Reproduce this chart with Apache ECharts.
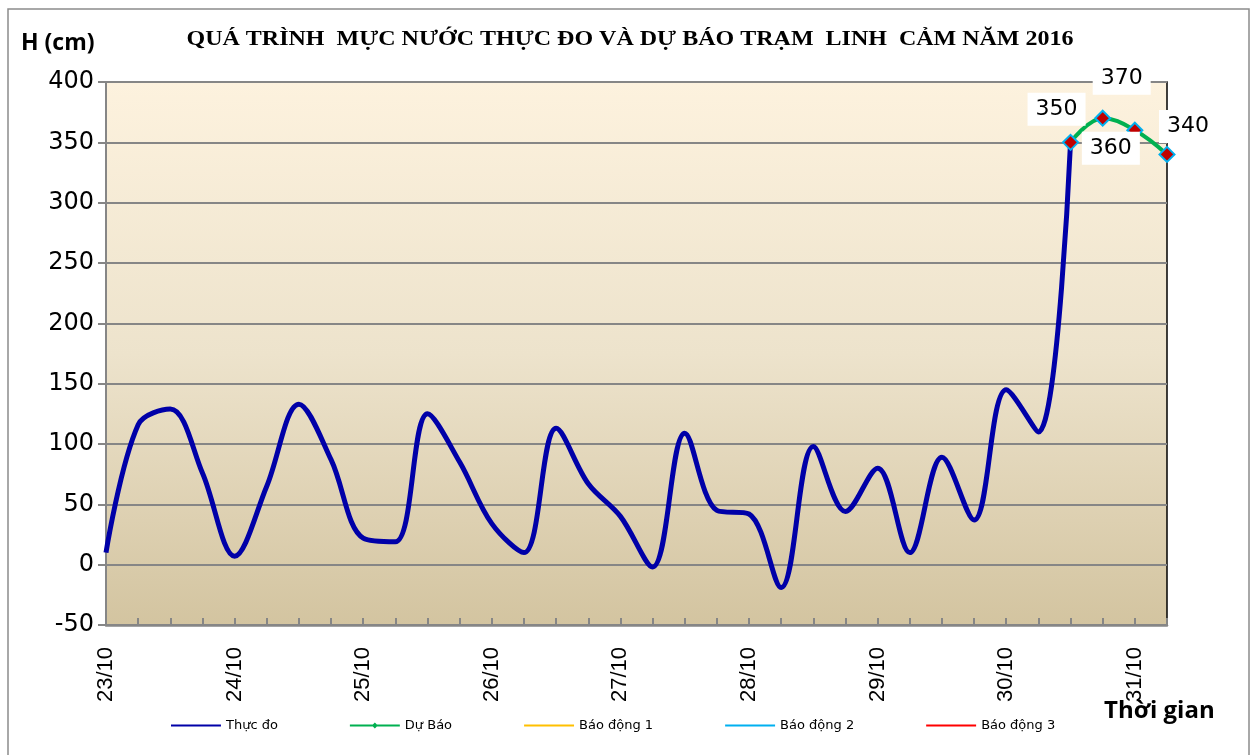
<!DOCTYPE html>
<html lang="vi">

<head>
  <meta charset="UTF-8">
  <title>Linh Cam 2016</title>
  <script src="https://cdn.jsdelivr.net/npm/echarts@6/dist/echarts.min.js"></script>
  <style>
    html, body { margin: 0; padding: 0; background: #fff; }
  </style>
</head>

<body>
  <div id="main" style="width: 1256px;height:755px;"></div>
  <script>
    // du lieu doc tu hinh
    var days = ['23/10', '24/10', '25/10', '26/10', '27/10', '28/10', '29/10', '30/10', '31/10'];
    var hours = ['1h', '7h', '13h', '19h'];
    var times = [];
    days.forEach(function (d) {
      hours.forEach(function (h) { times.push(d + ' ' + h); });
    });
    times = times.slice(0, 34);

    var thucDo = [10, 116, 129, 76, 7, 65, 133, 87, 22, 19,
      125, 85, 34, 10, 113, 67, 40, -2, 109, 45,
      42, -19, 98, 44, 80, 10, 89, 37, 145, 110, 350];
    var duBao = [350, 370, 360, 340];
    var duBaoStart = 30;
    var baoDong1 = [];
    var baoDong2 = [];
    var baoDong3 = [];

    var yTicks = { min: -50, max: 400, step: 50 };

    var myChart = echarts.init(document.getElementById('main'));

    // vi tri nhan cua duong du bao
    var labelOffsets = [[-14, -33], [19, -40], [-24, 18], [21, -28]];
    var duBaoData = times.map(function (t, i) {
      var k = i - duBaoStart;
      if (k < 0 || k >= duBao.length) return null;
      return {
        value: duBao[k],
        label: { offset: labelOffsets[k] }
      };
    });

    var axisGray = '#868686';
    var wideFont = 'DejaVu Sans, Verdana, sans-serif';
    // icon chu giai: duong mong o giua khung 50x10
    var lineIcon = 'path://M0,0 L0,0.01 Z M0,4 L50,4 L50,6 L0,6 Z M50,10 L50,10.01 Z';
    var diamondIcon = 'path://M0,0 L0,0.01 Z M0,4 L50,4 L50,6 L0,6 Z M25,2 L28,5 L25,8 L22,5 Z M50,10 L50,10.01 Z';

    var option = {
      animation: false,
      backgroundColor: '#fff',
      textStyle: { fontFamily: 'Liberation Sans, Arial, sans-serif' },
      graphic: [
        {
          type: 'rect', z: -10,
          shape: { x: 8, y: 9, width: 1241, height: 760 },
          style: { fill: 'none', stroke: '#8c8c8c', lineWidth: 1.5 }
        },
        {
          type: 'text', left: 21, top: 32,
          style: { text: 'H (cm)', font: 'bold 23px "Open Sans", sans-serif', fill: '#000' }
        },
        {
          type: 'text', left: 1104, top: 699,
          style: { text: 'Thời gian', font: 'bold 24px "Open Sans", sans-serif', fill: '#000' }
        },
        {
          type: 'text', x: 630, y: 40, scaleX: 1.2,
          style: {
            text: 'QUÁ TRÌNH  MỰC NƯỚC THỰC ĐO VÀ DỰ BÁO TRẠM  LINH  CẢM NĂM 2016',
            font: 'bold 20px "Liberation Serif", "Times New Roman", serif',
            fill: '#000',
            align: 'center',
            verticalAlign: 'middle'
          }
        }
      ],
      legend: {
        left: 166,
        top: 714,
        itemWidth: 50,
        itemHeight: 10,
        itemGap: 72,
        textStyle: { fontSize: 13, color: '#000', fontFamily: wideFont },
        data: [
          { name: 'Thực đo', icon: lineIcon },
          { name: 'Dự Báo', icon: diamondIcon, itemStyle: { color: '#00B050', borderWidth: 0 } },
          { name: 'Báo động 1', icon: lineIcon },
          { name: 'Báo động 2', icon: lineIcon },
          { name: 'Báo động 3', icon: lineIcon }
        ]
      },
      grid: {
        left: 106,
        right: 89,
        top: 82,
        bottom: 130,
        show: true,
        borderColor: '#000',
        borderWidth: 1.5,
        backgroundColor: new echarts.graphic.LinearGradient(0, 0, 0, 1, [
          { offset: 0, color: '#FDF2DE' },
          { offset: 0.5, color: '#EDE3CC' },
          { offset: 1, color: '#D3C4A0' }
        ])
      },
      xAxis: {
        type: 'category',
        data: times,
        boundaryGap: false,
        z: 10,
        axisLine: { show: true, onZero: false, lineStyle: { color: axisGray, width: 2.5 } },
        axisTick: { show: true, inside: true, length: 7, interval: 0, lineStyle: { color: axisGray, width: 2 } },
        axisLabel: {
          interval: 3,
          rotate: 90,
          margin: 22,
          fontSize: 22,
          color: '#000',
          formatter: function (v) { return v.split(' ')[0]; }
        },
        splitLine: { show: false }
      },
      yAxis: {
        type: 'value',
        min: yTicks.min,
        max: yTicks.max,
        interval: yTicks.step,
        axisLine: { show: true, lineStyle: { color: axisGray, width: 2 } },
        axisTick: { show: true, length: 8, lineStyle: { color: axisGray, width: 2 } },
        axisLabel: { fontSize: 24, color: '#000', margin: 12, fontFamily: wideFont },
        splitLine: { lineStyle: { color: axisGray, width: 2 } }
      },
      series: [
        {
          name: 'Thực đo',
          type: 'line',
          data: thucDo,
          smooth: 0.35,
          symbol: 'none',
          lineStyle: { color: '#0000A8', width: 5 },
          itemStyle: { color: '#0000A8' },
          z: 3
        },
        {
          name: 'Dự Báo',
          type: 'line',
          data: duBaoData,
          smooth: 0.4,
          symbol: 'diamond',
          symbolSize: 15,
          showAllSymbol: true,
          lineStyle: { color: '#00B050', width: 4 },
          itemStyle: { color: '#C00000', borderColor: '#00B0F0', borderWidth: 2 },
          label: {
            show: true,
            position: 'inside',
            fontSize: 22,
            fontFamily: wideFont,
            color: '#000',
            backgroundColor: '#fff',
            padding: [6, 8, 5, 8]
          },
          z: 4
        },
        { name: 'Báo động 1', type: 'line', data: baoDong1, symbol: 'none', lineStyle: { color: '#FFC000', width: 2 }, itemStyle: { color: '#FFC000' } },
        { name: 'Báo động 2', type: 'line', data: baoDong2, symbol: 'none', lineStyle: { color: '#00B0F0', width: 2 }, itemStyle: { color: '#00B0F0' } },
        { name: 'Báo động 3', type: 'line', data: baoDong3, symbol: 'none', lineStyle: { color: '#FF0000', width: 2 }, itemStyle: { color: '#FF0000' } }
      ]
    };

    myChart.setOption(option);
  </script>
</body>

</html>
